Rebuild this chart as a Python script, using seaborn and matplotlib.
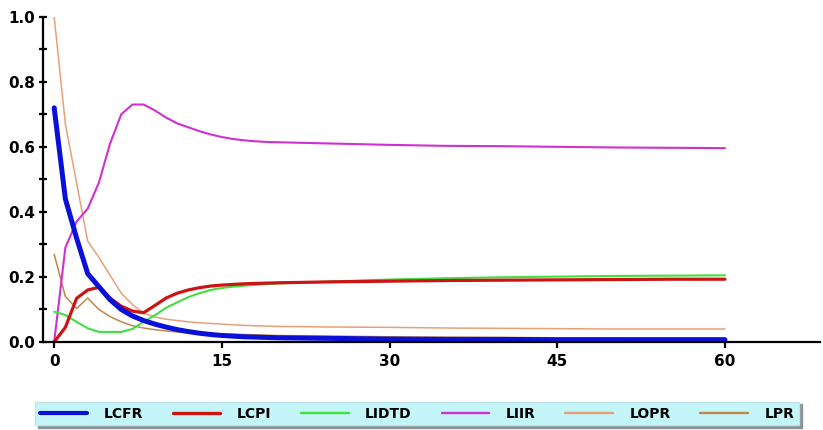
import matplotlib
matplotlib.use("Agg")
import matplotlib.pyplot as plt
import seaborn as sns
import pandas as pd
from matplotlib.ticker import MultipleLocator

# ---- data ----
t = list(range(0, 21)) + [25, 30, 35, 40, 45, 50, 55, 60]

LCFR = [0.72, 0.44, 0.32, 0.21, 0.17, 0.13, 0.10, 0.08, 0.066, 0.055, 0.046,
        0.038, 0.032, 0.027, 0.023, 0.020, 0.018, 0.016, 0.015, 0.014, 0.013,
        0.011, 0.009, 0.008, 0.008, 0.007, 0.007, 0.007, 0.007]
LCPI = [0.0, 0.045, 0.134, 0.16, 0.168, 0.135, 0.11, 0.095, 0.09, 0.112, 0.135,
        0.15, 0.16, 0.167, 0.172, 0.175, 0.177, 0.179, 0.18, 0.181, 0.182,
        0.185, 0.187, 0.189, 0.19, 0.191, 0.192, 0.193, 0.193]
LIDTD = [0.093, 0.083, 0.062, 0.042, 0.031, 0.031, 0.031, 0.04, 0.062, 0.082, 0.105,
         0.122, 0.138, 0.15, 0.16, 0.166, 0.17, 0.173, 0.176, 0.178, 0.18,
         0.186, 0.192, 0.196, 0.199, 0.201, 0.203, 0.204, 0.205]
LIIR = [0.0, 0.29, 0.37, 0.41, 0.49, 0.61, 0.70, 0.73, 0.73, 0.712, 0.69,
        0.672, 0.66, 0.648, 0.638, 0.63, 0.624, 0.62, 0.617, 0.615, 0.614,
        0.61, 0.606, 0.603, 0.602, 0.60, 0.598, 0.597, 0.596]
LOPR = [1.0, 0.67, 0.49, 0.31, 0.26, 0.205, 0.15, 0.115, 0.088, 0.077, 0.07,
        0.066, 0.062, 0.059, 0.057, 0.055, 0.053, 0.051, 0.05, 0.049, 0.048,
        0.046, 0.045, 0.043, 0.042, 0.041, 0.04, 0.04, 0.04]
LPR = [0.27, 0.14, 0.103, 0.135, 0.10, 0.078, 0.062, 0.05, 0.043, 0.038, 0.034,
       0.031, 0.029, 0.027, 0.026, 0.025, 0.024, 0.023, 0.022, 0.021, 0.02,
       0.018, 0.016, 0.015, 0.014, 0.013, 0.013, 0.012, 0.012]

series_names = ["LCFR", "LCPI", "LIDTD", "LIIR", "LOPR", "LPR"]
series_vals = [LCFR, LCPI, LIDTD, LIIR, LOPR, LPR]
x_ticks = [0, 15, 30, 45, 60]
y_ticks = [0.0, 0.2, 0.4, 0.6, 0.8, 1.0]

colors = {"LCFR": "#0a10d8", "LCPI": "#cc1414", "LIDTD": "#40e040",
          "LIIR": "#d030d0", "LOPR": "#e8a078", "LPR": "#c08848"}
widths = {"LCFR": 3.6, "LCPI": 2.3, "LIDTD": 1.5, "LIIR": 1.5,
          "LOPR": 1.1, "LPR": 1.1}
legend_widths = {"LCFR": 3.0, "LCPI": 2.4, "LIDTD": 1.7, "LIIR": 1.7,
                 "LOPR": 1.7, "LPR": 1.7}
draw_order = ["LPR", "LOPR", "LIIR", "LIDTD", "LCPI", "LCFR"]

sns.set_style("white")
plt.rcParams["font.family"] = ["DejaVu Sans"]
plt.rcParams["font.weight"] = "bold"
plt.rcParams["text.color"] = "black"

fig = plt.figure(figsize=(8.23, 4.30), dpi=100)
ax = fig.add_axes([43 / 823, (430 - 342) / 430, (820 - 43) / 823, (342 - 16.7) / 430])

handles = {}
for name in draw_order:
    df = pd.DataFrame({"t": t, "v": series_vals[series_names.index(name)]})
    sns.lineplot(data=df, x="t", y="v", ax=ax, color=colors[name],
                 linewidth=widths[name], label=name, legend=False)
    handles[name] = ax.lines[-1]

ax.set_xlim(-1, 68.5)
ax.set_ylim(0, 1.0)
ax.set_xticks(x_ticks)
ax.set_xticklabels([str(v) for v in x_ticks])
ax.set_yticks(y_ticks)
ax.set_yticklabels([f"{v:.1f}" for v in y_ticks])
ax.yaxis.set_minor_locator(MultipleLocator(0.1))
ax.set_xlabel("")
ax.set_ylabel("")

for s in ["top", "right"]:
    ax.spines[s].set_visible(False)
for s in ["left", "bottom"]:
    ax.spines[s].set_color("black")
    ax.spines[s].set_linewidth(1.6)

ax.tick_params(axis="y", which="both", direction="inout", length=6, width=1.6,
               color="black", labelcolor="black", labelsize=11, pad=2.5, left=True)
ax.tick_params(axis="x", which="major", direction="out", length=4, width=1.6,
               color="black", labelcolor="black", labelsize=11, pad=5, bottom=True)
for lab in ax.get_xticklabels() + ax.get_yticklabels():
    lab.set_fontweight("bold")

leg = fig.legend([handles[n] for n in series_names], series_names,
                 loc="center", ncol=6, mode="expand",
                 bbox_to_anchor=(28 / 823, (430 - 424) / 430, 778 / 823, 21 / 430),
                 prop={"weight": "bold", "size": 10},
                 handlelength=3.4, handletextpad=1.2, borderpad=0.35,
                 frameon=True, fancybox=False, framealpha=1,
                 facecolor="#c4f5f8", edgecolor="#c0e6ea",
                 shadow={"color": "#8a9496", "alpha": 1})
for line, n in zip(leg.get_lines(), series_names):
    line.set_linewidth(legend_widths[n])
for txt in leg.get_texts():
    txt.set_color("black")

fig.savefig("out.png", dpi=100)
